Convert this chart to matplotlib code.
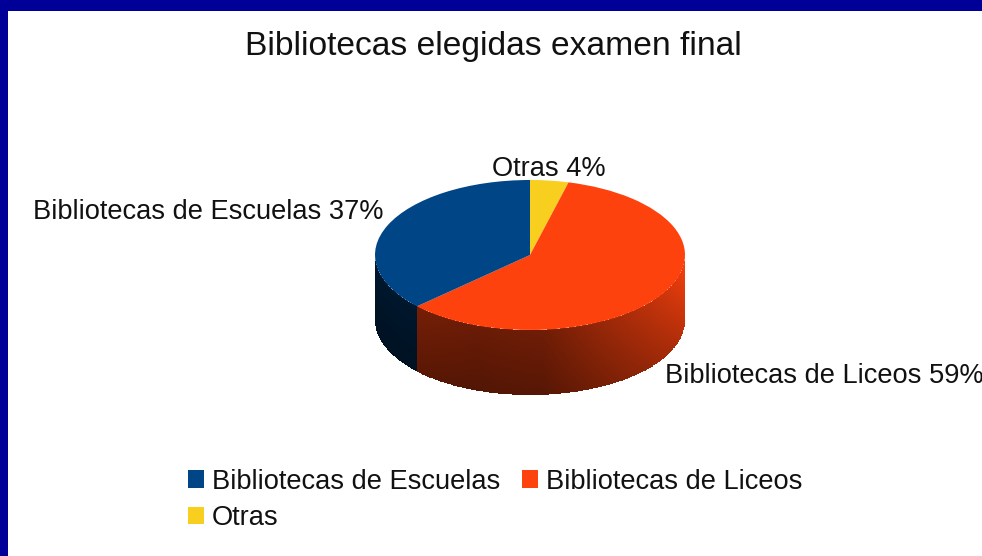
import numpy as np
import matplotlib
matplotlib.use("Agg")
import matplotlib.pyplot as plt
from matplotlib.patches import Rectangle

plt.rcParams['font.family'] = ['Liberation Sans', 'DejaVu Sans']

title = "Bibliotecas elegidas examen final"
categories = ["Otras", "Bibliotecas de Liceos", "Bibliotecas de Escuelas"]
values = [4, 59, 37]
colors = ["#f8cf1e", "#fd420e", "#004586"]

W, H = 982, 556
cx, cy, rx, ry = 530, 255, 155, 75  # px
depth = 65  # px

fig = plt.figure(figsize=(W/100, H/100), dpi=100, facecolor="white")

# window border of the screenshot
fig.add_artist(Rectangle((0, 1-11/H), 1, 11/H, transform=fig.transFigure, color="#000099", lw=0))
fig.add_artist(Rectangle((0, 0), 8/W, 1, transform=fig.transFigure, color="#000099", lw=0))

# axes squashed so the circle of the pie becomes the ellipse of the top face
dz = depth/ry
ax = fig.add_axes([(cx-rx)/W, 1-(cy+ry+depth)/H, 2*rx/W, (2*ry+depth)/H])
wedges, _ = ax.pie(values, colors=colors, startangle=90, counterclock=False, radius=1,
                   labels=categories, labeldistance=None,
                   wedgeprops=dict(lw=0, zorder=3))
ax.set_aspect("auto")
ax.set_xlim(-1, 1)
ax.set_ylim(-1-dz, 1)
ax.axis("off")

# side wall: only what lies on the front half of the ellipse
def side_wall(a0, a1, color, ang_pts, bright_pts):
    t = np.radians(np.linspace(a0, a1, 240))
    h = np.linspace(0, 1, 40)
    T, Z = np.meshgrid(t, h)
    X = np.cos(T)
    Y = np.sin(T) - Z*dz
    deg = np.degrees(T[:-1, :-1] + (t[1]-t[0])/2)
    zm = Z[:-1, :-1]
    b = np.interp(deg, ang_pts, bright_pts) * (1.1 - 0.25*zm)
    rgb = np.array(matplotlib.colors.to_rgb(color))
    C = np.clip(b[..., None]*rgb, 0, 1)
    ax.pcolormesh(X, Y, C, shading="flat", zorder=2, antialiased=False)

ends = 90 - np.cumsum(values)/np.sum(values)*360
starts = np.r_[90, ends[:-1]]
side_styles = {
    "Bibliotecas de Liceos": ([-137, -110, -85, -50, -20, 0], [0.42, 0.38, 0.40, 0.62, 0.80, 0.92]),
    "Bibliotecas de Escuelas": ([-180, -137], [0.30, 0.30]),
}
for name, s, e, c in zip(categories, starts, ends, colors):
    if name not in side_styles:
        continue
    # keep the visible front only
    lo, hi = max(e, -180), min(s, 0)
    if lo < hi:
        side_wall(lo, hi, c, *side_styles[name])

# labels, in pixels of the picture
def px_text(x, y, s, **kw):
    fig.text(x/W, 1-y/H, s, color="#111111", va="center", **kw)

px_text(493, 46, title, fontsize=24.2, ha="center")
label_pos = {"Otras": (492, 169), "Bibliotecas de Liceos": (665, 376), "Bibliotecas de Escuelas": (33, 212)}
for name, v in zip(categories, values):
    x, y = label_pos[name]
    px_text(x, y, f"{name} {v}%", fontsize=19.6, ha="left")

# legend: matplotlib fills columns first, so Otras goes second to land under Escuelas
order = [2, 0, 1]
leg = fig.legend([wedges[i] for i in order], [categories[i] for i in order],
                 ncol=2, loc="upper left", bbox_to_anchor=(174/W, 1-455/H),
                 frameon=False, fontsize=19.6, handlelength=0.62, handleheight=0.62,
                 handletextpad=0.26, columnspacing=0.8, labelspacing=0.38, borderpad=0, labelcolor="#111111")

fig.savefig("out.png", dpi=100)
